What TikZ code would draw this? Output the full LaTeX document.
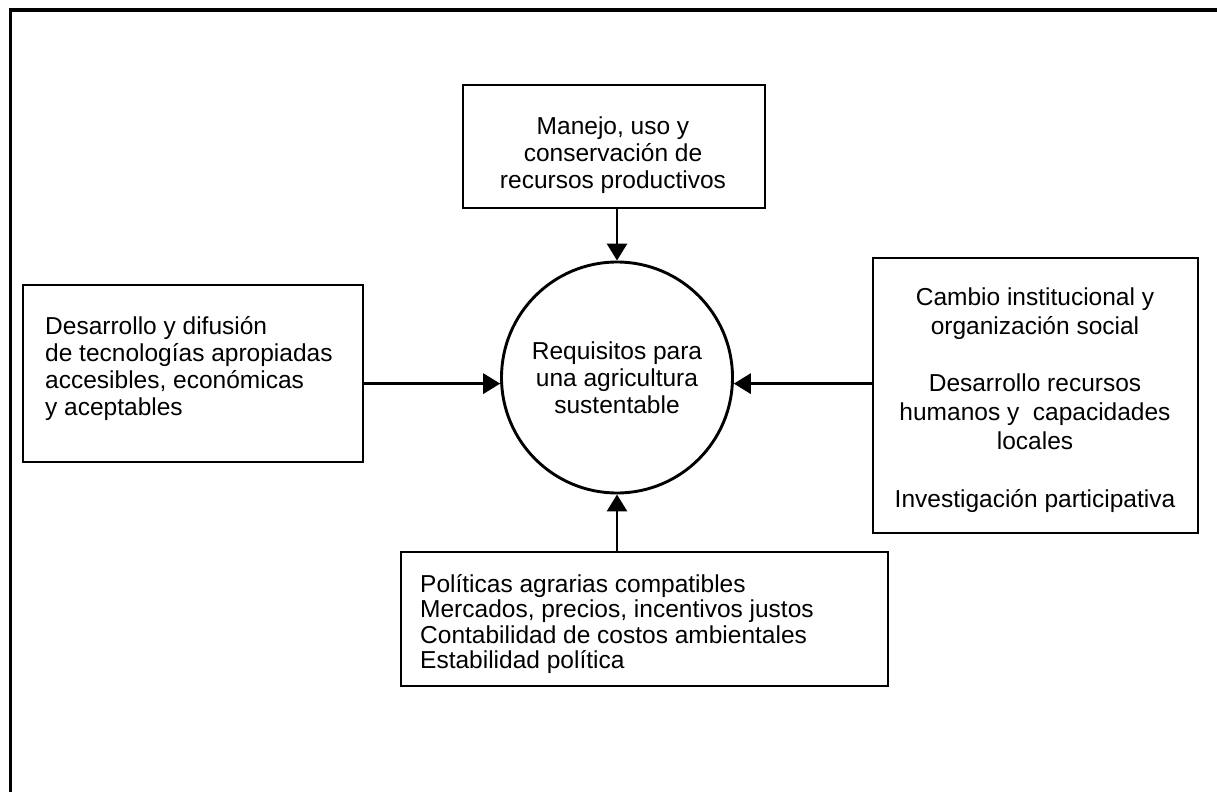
\documentclass[tikz,border=0pt]{standalone}
\usepackage{fontspec}
\setmainfont{Liberation Sans}
\usetikzlibrary{arrows.meta}
\begin{document}
\begin{tikzpicture}[x=1pt,y=-1pt,
  thick line/.style={line width=2.9pt},
  boxshape/.style={draw,thick line,rectangle,inner sep=0pt},
  txt/.style={inner sep=0pt,font=\fontsize{24.5}{27}\selectfont},
  arr/.style={thick line,-{Triangle[length=17pt,width=20pt]}}]
\useasboundingbox (0,0) rectangle (1217,792);
% frame
\draw[line width=3.2pt] (1217,10) -- (10.5,10) -- (10.5,792);
% circle
\node[draw,thick line,circle,minimum size=231pt,inner sep=0pt] (circ) at (617,377.5) {};
\node[txt,align=center] (circtxt) at (617,378) {Requisitos para\\una agricultura\\sustentable};
% top box
\node[boxshape,minimum width=302pt,minimum height=123pt] (top) at (614,146.5) {};
\node[txt,align=center] (toptxt) at (613,155) {Manejo, uso y\\conservación de\\recursos productivos};
% left box
\node[boxshape,minimum width=340pt,minimum height=177pt] (left) at (193,373.5) {};
\node[txt,align=left,anchor=west] (lefttxt) at (45,369) {Desarrollo y difusión\\de tecnologías apropiadas\\accesibles, económicas\\y aceptables};
% right box
\node[boxshape,minimum width=325pt,minimum height=275pt] (right) at (1035.5,395.5) {};
\node[txt,align=center,font=\fontsize{24.5}{28.8}\selectfont] (righttxt) at (1035,400) {Cambio institucional y\\organización social\\[28.8pt]Desarrollo recursos\\humanos y\ \ capacidades\\locales\\[28.8pt]Investigación participativa};
% bottom box
\node[boxshape,minimum width=487pt,minimum height=134pt] (bottom) at (644.5,619) {};
\node[txt,align=left,anchor=west,font=\fontsize{24.5}{25.5}\selectfont] (bottomtxt) at (420,624) {Políticas agrarias compatibles\\Mercados, precios, incentivos justos\\Contabilidad de costos ambientales\\Estabilidad política};
% arrows
\draw[arr] (circ.-3 -| left.east) -- (circ.183);
\draw[arr] (circ.-3 -| right.west) -- (circ.-3);
\draw[arr] (top.south -| circ.north) -- (circ.north);
\draw[arr] (bottom.north -| circ.south) -- (circ.south);
\end{tikzpicture}
\end{document}
